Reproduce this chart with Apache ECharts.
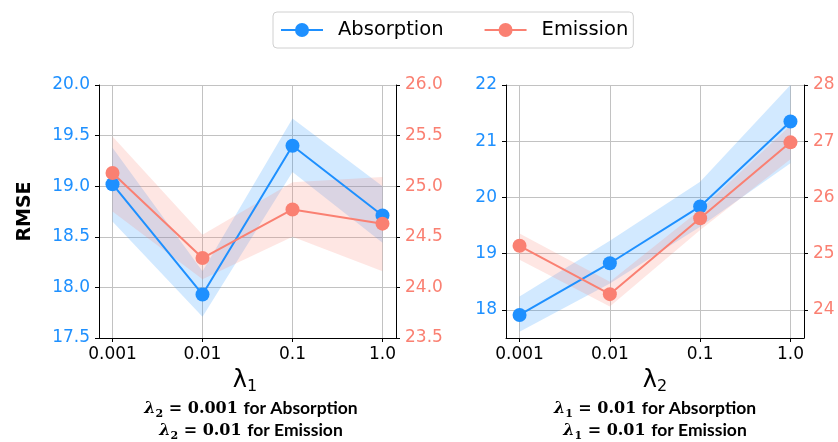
<!DOCTYPE html>
<html>
<head>
<meta charset="utf-8">
<script src="https://cdn.jsdelivr.net/npm/echarts@6/dist/echarts.min.js"></script>
<style>
  html, body { margin: 0; padding: 0; background: #fff; }
  #chart { width: 838px; height: 442px; }
</style>
</head>
<body>
<div id="chart"></div>
<script>
// Regularisation weights on the x axis (evenly spaced positions)
const lambdaTicks = ['0.001', '0.01', '0.1', '1.0'];
const lambdaPos = [0, 1, 2, 3];

// Sweep over λ1 : mean RMSE and the shaded spread
const absL1Mean = [19.02, 17.93, 19.40, 18.71];
const absL1Lo   = [18.65, 17.71, 19.14, 18.44];
const absL1Hi   = [19.38, 18.16, 19.67, 19.00];
const emiL1Mean = [25.13, 24.29, 24.77, 24.63];
const emiL1Lo   = [24.75, 24.08, 24.50, 24.16];
const emiL1Hi   = [25.49, 24.52, 25.04, 25.09];

// Sweep over λ2
const absL2Mean = [17.91, 18.83, 19.84, 21.35];
const absL2Lo   = [17.61, 18.47, 19.48, 20.61];
const absL2Hi   = [18.24, 19.23, 20.28, 22.05];
const emiL2Mean = [25.14, 24.28, 25.63, 26.98];
const emiL2Lo   = [24.89, 24.06, 25.42, 26.68];
const emiL2Hi   = [25.36, 24.50, 25.78, 27.28];

// Axis ranges and tick values of the four y axes
const absRangeL1 = [17.5, 20.0];
const emiRangeL1 = [23.5, 26.0];
const absRangeL2 = [17.5, 22.0];
const emiRangeL2 = [23.5, 28.0];
const absTicksL1 = [17.5, 18.0, 18.5, 19.0, 19.5, 20.0];
const emiTicksL1 = [23.5, 24.0, 24.5, 25.0, 25.5, 26.0];
const absTicksL2 = [18, 19, 20, 21, 22];
const emiTicksL2 = [24, 25, 26, 27, 28];

const BLUE = '#1e90ff';
const RED = '#fa8072';
const GRIDC = '#c2c2c2';
const SANS = 'DejaVu Sans';

const chart = echarts.init(document.getElementById('chart'), null, { renderer: 'canvas' });

function xAxisCfg(gridIndex) {
  return {
    type: 'value', gridIndex: gridIndex, min: -0.15, max: 3.15,
    axisLine: { show: true, onZero: false, lineStyle: { color: '#000', width: 1 } },
    axisTick: { show: true, customValues: lambdaPos, length: 4, lineStyle: { color: '#000' } },
    axisLabel: {
      customValues: lambdaPos, formatter: v => lambdaTicks[Math.round(v)],
      color: '#000', fontSize: 17, fontFamily: SANS, margin: 8
    },
    splitLine: { show: true, lineStyle: { color: GRIDC, width: 1 } }
  };
}

function yAxisCfg(gridIndex, position, range, ticks, color, digits, showGrid, name) {
  const cfg = {
    type: 'value', gridIndex: gridIndex, position: position,
    min: range[0], max: range[1],
    axisLine: { show: true, onZero: false, lineStyle: { color: '#000', width: 1 } },
    axisTick: { show: true, customValues: ticks, length: 4, lineStyle: { color: '#000' } },
    axisLabel: {
      customValues: ticks, formatter: v => v.toFixed(digits),
      color: color, fontSize: 17, fontFamily: SANS, margin: 9
    },
    splitLine: { show: showGrid, lineStyle: { color: GRIDC, width: 1 } }
  };
  if (name) {
    cfg.name = name;
    cfg.nameLocation = 'middle';
    cfg.nameRotate = 90;
    cfg.nameGap = 64;
    cfg.nameTextStyle = { fontSize: 19, fontWeight: 'bold', fontFamily: SANS, color: '#000' };
  }
  return cfg;
}

// Shaded spread drawn as a single polygon through all points
function bandSeries(name, xIdx, yIdx, lo, hi, fill) {
  const data = lambdaPos.map((x, i) => [x, lo[i], hi[i]]);
  return {
    type: 'custom', name: name, xAxisIndex: xIdx, yAxisIndex: yIdx,
    data: data, silent: true, encode: { x: 0, y: [1, 2] },
    renderItem: function (params, api) {
      if (params.dataIndex !== 0) return null;
      const upper = data.map(d => api.coord([d[0], d[2]]));
      const lower = data.map(d => api.coord([d[0], d[1]])).reverse();
      const cs = params.coordSys;
      const pts = echarts.graphic.clipPointsByRect(upper.concat(lower),
        { x: cs.x, y: cs.y, width: cs.width, height: cs.height });
      return { type: 'polygon', shape: { points: pts }, style: { fill: fill } };
    }
  };
}

function lineSeries(name, xIdx, yIdx, vals, color) {
  return {
    type: 'line', name: name, xAxisIndex: xIdx, yAxisIndex: yIdx,
    data: lambdaPos.map((x, i) => [x, vals[i]]),
    symbol: 'circle', symbolSize: 14, showSymbol: true,
    lineStyle: { width: 2, color: color }, itemStyle: { color: color },
    emphasis: { disabled: true }, silent: true
  };
}

const BLUE_FILL = 'rgba(30,144,255,0.2)';
const RED_FILL = 'rgba(250,128,114,0.2)';

// Captions: main glyphs sit a few pixels above the line bottom so the subscripts drop below
const subRich = {
  m: { fontFamily: 'DejaVu Serif', fontStyle: 'italic', fontWeight: 'bold', fontSize: 16, color: '#000', verticalAlign: 'bottom', lineHeight: 22, padding: [0, 0, 3, 0] },
  s: { fontFamily: 'DejaVu Serif', fontWeight: 'bold', fontSize: 11, color: '#000', verticalAlign: 'bottom', lineHeight: 14 },
  n: { fontFamily: 'DejaVu Serif', fontWeight: 'bold', fontSize: 16, color: '#000', verticalAlign: 'bottom', lineHeight: 22, padding: [0, 0, 3, 0] },
  t: { fontFamily: 'Lato', fontWeight: 'bold', fontSize: 17.5, color: '#000', verticalAlign: 'bottom', lineHeight: 22, padding: [0, 0, 3, 0] }
};
const lamRich = {
  l: { fontFamily: SANS, fontWeight: 'normal', fontSize: 24, color: '#000', verticalAlign: 'bottom', lineHeight: 28, padding: [0, 0, 2, 0] },
  s: { fontFamily: SANS, fontWeight: 'normal', fontSize: 16, color: '#000', verticalAlign: 'bottom', lineHeight: 16 }
};

const option = {
  animation: false,
  backgroundColor: '#fff',
  legend: {
    data: ['Absorption', 'Emission'],
    left: 273, top: 12,
    padding: [8, 5, 8, 7],
    itemWidth: 42, itemHeight: 17.5, itemGap: 40,
    borderColor: '#d0d0d0', borderWidth: 1, borderRadius: 4,
    textStyle: { fontSize: 19.5, fontFamily: SANS, color: '#000', padding: [0, 0, 0, 10] },
    selectedMode: false
  },
  title: [
    { text: '{l|λ}{s|1}', left: 245, top: 367, textAlign: 'center', padding: 0,
      textStyle: { fontWeight: 'normal', rich: lamRich } },
    { text: '{l|λ}{s|2}', left: 655, top: 367, textAlign: 'center', padding: 0,
      textStyle: { fontWeight: 'normal', rich: lamRich } },
    { text: '{m|λ}{s|2}{n| = 0.001 }{t|for Absorption}\n{m|λ}{s|2}{n| = 0.01 }{t|for Emission}',
      left: 251, top: 398, textAlign: 'center', padding: 0,
      textStyle: { rich: subRich, lineHeight: 23 } },
    { text: '{m|λ}{s|1}{n| = 0.01 }{t|for Absorption}\n{m|λ}{s|1}{n| = 0.01 }{t|for Emission}',
      left: 655, top: 398, textAlign: 'center', padding: 0,
      textStyle: { rich: subRich, lineHeight: 23 } }
  ],
  grid: [
    { left: 99, right: 442, top: 85, bottom: 104 },
    { left: 506, right: 34, top: 85, bottom: 104 }
  ],
  xAxis: [xAxisCfg(0), xAxisCfg(1)],
  yAxis: [
    yAxisCfg(0, 'left', absRangeL1, absTicksL1, BLUE, 1, true, 'RMSE'),
    yAxisCfg(0, 'right', emiRangeL1, emiTicksL1, RED, 1, false),
    yAxisCfg(1, 'left', absRangeL2, absTicksL2, BLUE, 0, true),
    yAxisCfg(1, 'right', emiRangeL2, emiTicksL2, RED, 0, false)
  ],
  series: [
    bandSeries('Absorption spread λ1', 0, 0, absL1Lo, absL1Hi, BLUE_FILL),
    lineSeries('Absorption', 0, 0, absL1Mean, BLUE),
    bandSeries('Emission spread λ1', 0, 1, emiL1Lo, emiL1Hi, RED_FILL),
    lineSeries('Emission', 0, 1, emiL1Mean, RED),
    bandSeries('Absorption spread λ2', 1, 2, absL2Lo, absL2Hi, BLUE_FILL),
    lineSeries('Absorption', 1, 2, absL2Mean, BLUE),
    bandSeries('Emission spread λ2', 1, 3, emiL2Lo, emiL2Hi, RED_FILL),
    lineSeries('Emission', 1, 3, emiL2Mean, RED)
  ]
};

chart.setOption(option);
</script>
</body>
</html>
